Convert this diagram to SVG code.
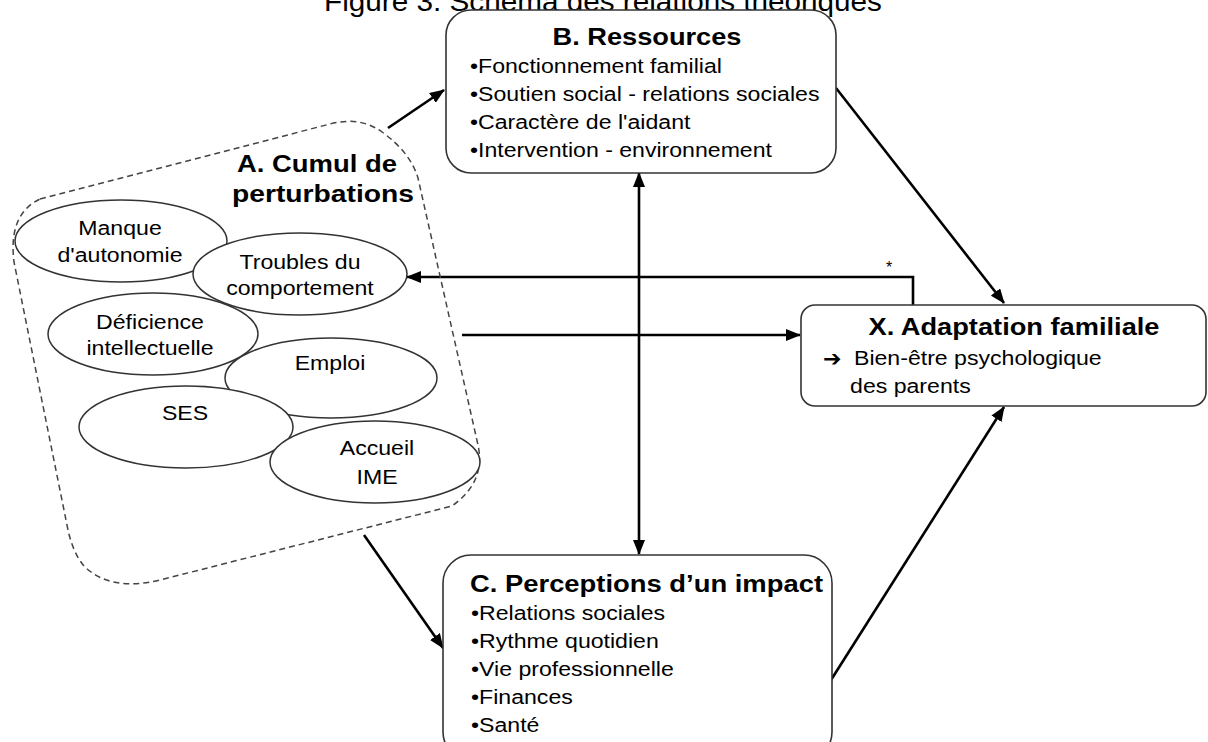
<svg xmlns="http://www.w3.org/2000/svg" width="1208" height="742" viewBox="0 0 1208 742">
<style>
text{font-family:"Liberation Sans",Arial,sans-serif;fill:#000}
.h{font-size:23px;font-weight:bold}
.t{font-size:21px}
.box{fill:#fff;stroke:#333;stroke-width:1.6}
.ell{fill:#fff;stroke:#333;stroke-width:1.5}
.con{fill:none;stroke:#000;stroke-width:2.6}
</style>
<defs>
<marker id="ah" markerUnits="userSpaceOnUse" markerWidth="16" markerHeight="12" refX="14" refY="6" orient="auto-start-reverse">
<path d="M0,0 L15,6 L0,12 Z" fill="#000"/>
</marker>
</defs>
<rect width="1208" height="742" fill="#fff"/>
<g id="title"><text x="0" y="11" transform="translate(603,0) scale(1.1,1)" text-anchor="middle" style="font-size:27px">Figure 3. Schéma des relations théoriques</text></g>

<g id="connectors">
<path class="con" d="M388,128 L444,90" marker-end="url(#ah)"/>
<path class="con" d="M836,88 L1004,303" marker-end="url(#ah)"/>
<path class="con" d="M831,680 L1004,407" marker-end="url(#ah)"/>
<path class="con" d="M364,535 L443,648" marker-end="url(#ah)"/>
<path class="con" d="M639,173 L639,554" marker-start="url(#ah)" marker-end="url(#ah)"/>
<path class="con" d="M462,335 L800,335" marker-end="url(#ah)"/>
<path class="con" d="M913,305 L913,277 L407,277" marker-end="url(#ah)"/>
<text x="886" y="273" style="font-size:16px">*</text>
</g>

<g id="A">
<path d="M40,199 L330,124 Q360,116 382,132 Q410,152 418,178 L478,445 Q486,482 452,506 L160,580 Q110,592 84,566 Q72,552 67,525 L14,262 Q8,214 40,199 Z" fill="none" stroke="#444" stroke-width="1.5" stroke-dasharray="6 4"/>
<text class="h" x="237" y="172" textLength="160" lengthAdjust="spacingAndGlyphs">A. Cumul de</text>
<text class="h" x="232" y="202" textLength="182" lengthAdjust="spacingAndGlyphs">perturbations</text>
<g id="e-manque"><ellipse class="ell" cx="121" cy="241" rx="106" ry="41"/>
<g transform="translate(120,0) scale(1.1,1)"><text class="t" x="0" y="235" text-anchor="middle">Manque</text><text class="t" x="0" y="262" text-anchor="middle">d'autonomie</text></g></g>
<g id="e-troubles"><ellipse class="ell" cx="300" cy="274" rx="107" ry="41"/>
<g transform="translate(300,0) scale(1.1,1)"><text class="t" x="0" y="269" text-anchor="middle">Troubles du</text><text class="t" x="0" y="295" text-anchor="middle">comportement</text></g></g>
<g id="e-deficience"><ellipse class="ell" cx="153" cy="334" rx="105" ry="41"/>
<g transform="translate(150,0) scale(1.1,1)"><text class="t" x="0" y="329" text-anchor="middle">Déficience</text><text class="t" x="0" y="355" text-anchor="middle">intellectuelle</text></g></g>
<g id="e-emploi"><ellipse class="ell" cx="331" cy="378" rx="106" ry="40"/>
<g transform="translate(330,0) scale(1.1,1)"><text class="t" x="0" y="370" text-anchor="middle">Emploi</text></g></g>
<g id="e-ses"><ellipse class="ell" cx="186" cy="427" rx="107" ry="41"/>
<g transform="translate(185,0) scale(1.1,1)"><text class="t" x="0" y="420" text-anchor="middle">SES</text></g></g>
<g id="e-accueil"><ellipse class="ell" cx="375" cy="462" rx="105" ry="41"/>
<g transform="translate(377,0) scale(1.1,1)"><text class="t" x="0" y="455" text-anchor="middle">Accueil</text><text class="t" x="0" y="484" text-anchor="middle">IME</text></g></g>
</g>

<g id="B">
<rect class="box" x="446" y="10" width="390" height="163" rx="25"/>
<text class="h" x="647" y="45" text-anchor="middle" textLength="189" lengthAdjust="spacingAndGlyphs">B. Ressources</text>
<g transform="translate(470,0) scale(1.1,1)">
<text class="t" x="0" y="73">•Fonctionnement familial</text>
<text class="t" x="0" y="101">•Soutien social - relations sociales</text>
<text class="t" x="0" y="129">•Caractère de l'aidant</text>
<text class="t" x="0" y="157">•Intervention - environnement</text>
</g>
</g>

<g id="C">
<rect class="box" x="443" y="555" width="389" height="205" rx="28"/>
<text class="h" x="470" y="592" textLength="353" lengthAdjust="spacingAndGlyphs">C. Perceptions d’un impact</text>
<g transform="translate(471,0) scale(1.1,1)">
<text class="t" x="0" y="620">•Relations sociales</text>
<text class="t" x="0" y="648">•Rythme quotidien</text>
<text class="t" x="0" y="676">•Vie professionnelle</text>
<text class="t" x="0" y="704">•Finances</text>
<text class="t" x="0" y="732">•Santé</text>
</g>
</g>

<g id="X">
<rect class="box" x="801" y="305" width="405" height="101" rx="14"/>
<text class="h" x="1014" y="335" text-anchor="middle" textLength="291" lengthAdjust="spacingAndGlyphs">X. Adaptation familiale</text>
<text x="823" y="366" style="font-family:'DejaVu Sans',sans-serif;font-size:22px;font-weight:bold">➔</text>
<g transform="translate(854,0) scale(1.1,1)">
<text class="t" x="0" y="365">Bien-être psychologique</text>
<text class="t" x="-3.6" y="393">des parents</text>
</g>
</g>
</svg>
